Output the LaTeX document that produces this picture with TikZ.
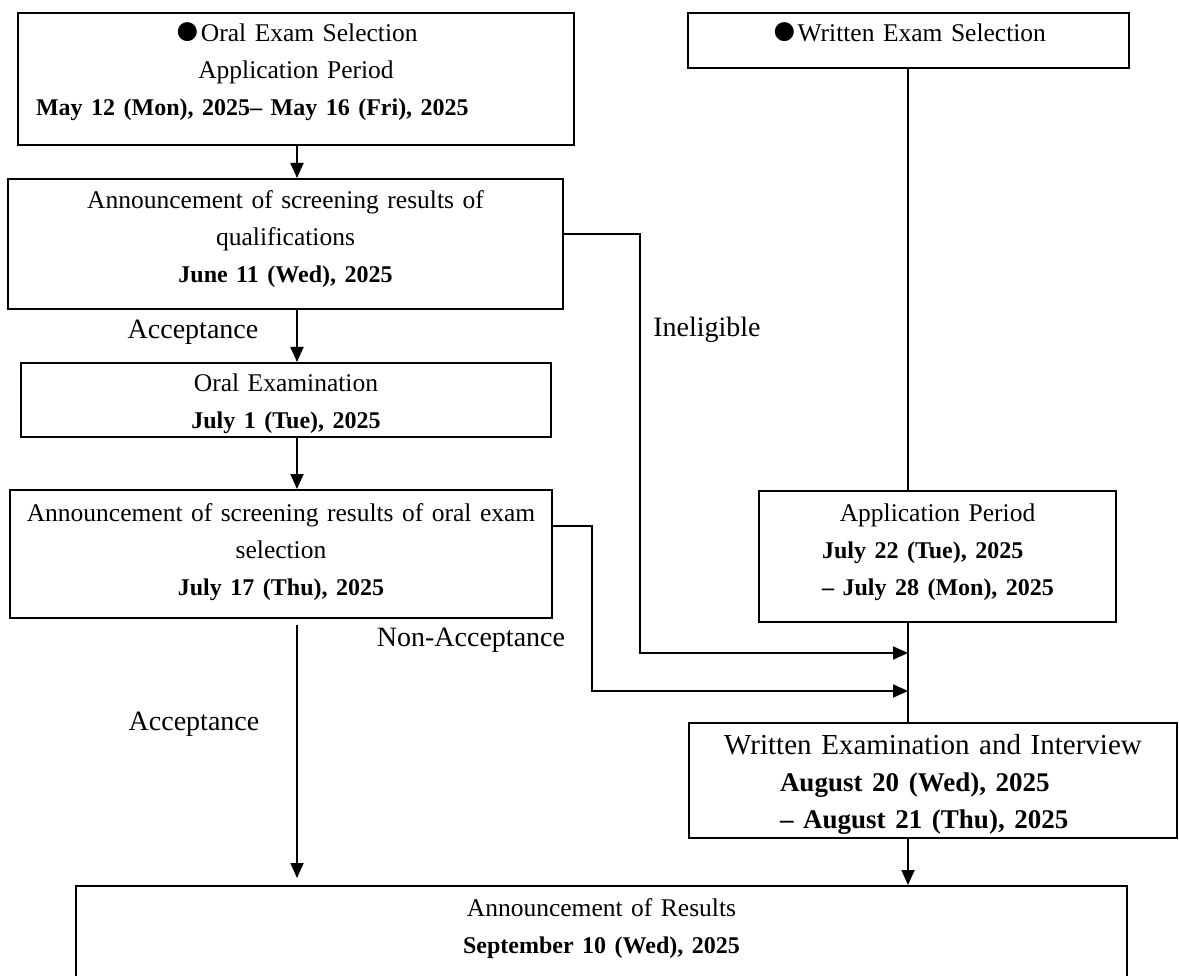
\documentclass[tikz,border=0pt]{standalone}
\usepackage{fontspec}
\setmainfont{Liberation Serif}
\usetikzlibrary{arrows.meta}
\newcommand{\dt}[2][24]{{\fontsize{#1}{36.8}\selectfont\bfseries #2}}
\newcommand{\bul}{\raisebox{-3pt}{\fontsize{44}{36.8}\selectfont ●}}
\newcommand{\ind}[2]{\makebox[\linewidth][l]{\hspace*{#1}#2}}
\begin{document}
\begin{tikzpicture}[x=1pt,y=-1pt,line width=1.8pt,>={Triangle[length=15pt,width=13pt]},
    every node/.style={font=\fontsize{25.5}{36.8}\selectfont},
    box/.style={draw,anchor=north,align=center,inner sep=0pt},
    lbl/.style={font=\fontsize{28}{30}\selectfont}]
    \useasboundingbox (0,0) rectangle (1179,976);
    %% left column: oral exam selection
    \node[box,text width=556pt,text height=29pt,text depth=103pt] (oral) at (296,12)
        {\bul Oral Exam Selection\\ Application Period\\
         \ind{18pt}{\dt{May 12 (Mon), 2025– May 16 (Fri), 2025}}};
    \node[box,text width=555pt,text height=30pt,text depth=100pt] (qual) at (285.5,178)
        {Announcement of screening results of\\ qualifications\\ \dt{June 11 (Wed), 2025}};
    \node[box,text width=530pt,text height=29pt,text depth=45pt] (oexam) at (286,362)
        {Oral Examination\\ \dt{July 1 (Tue), 2025}};
    \node[box,text width=542pt,text height=32pt,text depth=96pt] (oresult) at (281,489)
        {Announcement of screening results of oral exam\\ selection\\ \dt{July 17 (Thu), 2025}};
    %% right column: written exam selection
    \node[box,text width=441pt,text height=29pt,text depth=26pt] (written) at (908.5,12)
        {\bul Written Exam Selection};
    \node[box,text width=357pt,text height=31pt,text depth=100pt] (apply) at (937.5,490)
        {Application Period\\ \ind{63pt}{\dt{July 22 (Tue), 2025}}\\
         \ind{63pt}{\dt{– July 28 (Mon), 2025}}};
    \node[box,text width=488pt,text height=32pt,text depth=83pt,
        font=\fontsize{29}{36.8}\selectfont] (wexam) at (933,722)
        {Written Examination and Interview\\ \ind{91pt}{\dt[27]{August 20 (Wed), 2025}}\\
         \ind{91pt}{\dt[27]{– August 21 (Thu), 2025}}};
    %% results
    \node[box,text width=1051pt,text height=31pt,text depth=104pt] (results) at (601.5,885)
        {Announcement of Results\\ \dt{September 10 (Wed), 2025}};
    %% labels
    \node[lbl] (acc1) at (193,332) {Acceptance};
    \node[lbl] (inel) at (707,330) {Ineligible};
    \node[lbl] (nacc) at (471,640) {Non-Acceptance};
    \node[lbl] (acc2) at (194,724) {Acceptance};
    %% connectors
    \coordinate (lcol) at (297,0);
    \coordinate (rcol) at (908,0);
    \coordinate (in1) at (908,653);
    \coordinate (in2) at (908,691);
    \draw[->] (lcol |- oral.south) -- (lcol |- qual.north);
    \draw[->] (lcol |- qual.south) -- (lcol |- oexam.north);
    \draw[->] (lcol |- oexam.south) -- (lcol |- oresult.north);
    \draw[->] ([yshift=-6pt]lcol |- oresult.south) -- ([yshift=7pt]lcol |- results.north);
    \draw (rcol |- written.south) -- (rcol |- apply.north);
    \draw (rcol |- apply.south) -- (rcol |- wexam.north);
    \draw[->] (rcol |- wexam.south) -- (rcol |- results.north);
    \draw[->] ([yshift=10pt]qual.east) -- ++(76,0) |- (in1);
    \draw[->] ([yshift=28pt]oresult.east) -- ++(39,0) |- (in2);
\end{tikzpicture}
\end{document}
